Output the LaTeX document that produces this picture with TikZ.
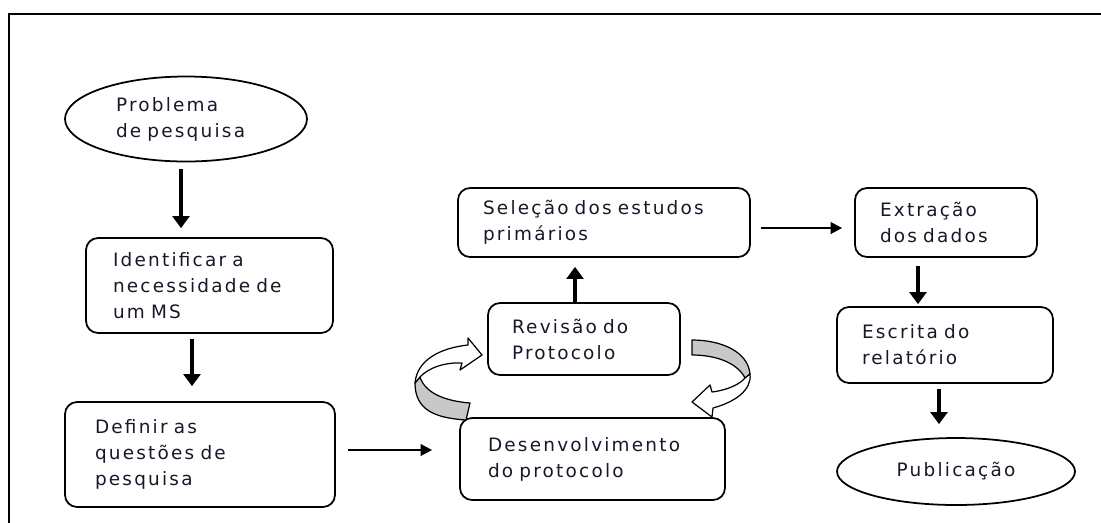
\documentclass[tikz,border=0pt]{standalone}
\usepackage{fontspec}
\setmainfont{DejaVu Sans}[LetterSpace=12,WordSpace=1.5]
\usetikzlibrary{arrows.meta,shapes.geometric,calc}
\definecolor{bandgray}{RGB}{200,200,200}
\definecolor{txt}{RGB}{30,20,40}
\begin{document}
\begin{tikzpicture}[x=0.02cm,y=-0.02cm,
  every node/.style={font=\fontsize{10.5pt}{14.8pt}\selectfont, text=txt},
  box/.style={draw, line width=1pt, rounded corners=0.24cm, inner sep=0pt, align=left},
  oval/.style={draw, ellipse, line width=1pt, inner sep=0pt, align=left},
  varr/.style={line width=2pt, -{Triangle[length=6.8pt,width=9.5pt]}},
  harr/.style={line width=1.3pt, -{Triangle[length=6.5pt,width=6.5pt]}},
  band/.style={draw, line width=0.7pt, line join=round}]
\useasboundingbox (0,0) rectangle (1101,522);
\draw[line width=1.2pt] (9,530) -- (9,14) -- (1110,14);

\node[oval, minimum width=4.84cm, minimum height=1.70cm, text width=2.8cm] (prob) at (186,119) {Problema\\de pesquisa};
\node[box, minimum width=4.94cm, minimum height=1.90cm, text width=3.86cm] (ident) at (209.5,285.5) {Identificar a\\necessidade de\\um MS};
\node[box, minimum width=5.40cm, minimum height=2.10cm, text width=4.20cm] (def) at (200,454.5) {Definir as\\questões de\\pesquisa};
\node[box, minimum width=5.30cm, minimum height=1.64cm, text width=4.18cm] (dev) at (592.5,459) {Desenvolvimento\\do protocolo};
\node[box, minimum width=3.84cm, minimum height=1.44cm, text width=2.88cm] (rev) at (584,339) {Revisão do\\Protocolo};
\node[box, minimum width=5.84cm, minimum height=1.38cm, text width=4.84cm] (sel) at (604,222.5) {Seleção dos estudos\\primários};
\node[box, minimum width=3.64cm, minimum height=1.38cm, text width=2.64cm] (ext) at (946,222.5) {Extração\\dos dados};
\node[box, minimum width=4.32cm, minimum height=1.52cm, text width=3.32cm] (esc) at (945,345) {Escrita do\\relatório};
\node[oval, minimum width=4.76cm, minimum height=1.34cm, align=center] (pub) at (956,471.5) {Publicação};

\draw[varr] ($(prob.south)+(-5,6.5)$) -- ($(ident.north)+(-28.5,-9)$);
\draw[varr] ($(ident.south)+(-17.5,5)$) -- ($(def.north)+(-8,-15)$);
\draw[harr] ($(def.east)+(12,-4.5)$) -- ($(dev.west)+(-27,-9)$);
\draw[varr] ($(rev.north)+(-9,0)$) -- ($(sel.south)+(-29,9)$);
\draw[harr] ($(sel.east)+(10,5.5)$) -- ($(ext.west)+(-12,5.5)$);
\draw[varr] ($(ext.south)+(-28,8)$) -- ($(esc.north)+(-27,-2)$);
\draw[varr] ($(esc.south)+(-6,5)$) -- ($(pub.north)+(-17,-13)$);

% left curved arrow
\draw[band, fill=bandgray] (470,403) -- (466,420) .. controls (435,418) and (415,410) .. (415,383)
  -- (420,377) .. controls (425,393) and (445,401) .. (470,403) -- cycle;
\draw[band, fill=white] (415,383) .. controls (417,360) and (440,348) .. (468,345)
  -- (468,338) -- (482,355) -- (460,370) -- (462,363)
  .. controls (445,362) and (428,368) .. (420,377) -- cycle;
% right curved arrow
\draw[band, fill=bandgray] (692,340) .. controls (722,340) and (748,352) .. (750,374)
  -- (745,378) .. controls (738,364) and (718,355) .. (692,355) -- cycle;
\draw[band, fill=white] (750,374) .. controls (752,390) and (735,402) .. (713,408)
  -- (712,417) -- (692,402) -- (710,385) -- (712,392)
  .. controls (728,390) and (740,384) .. (745,378) -- cycle;
\end{tikzpicture}
\end{document}
